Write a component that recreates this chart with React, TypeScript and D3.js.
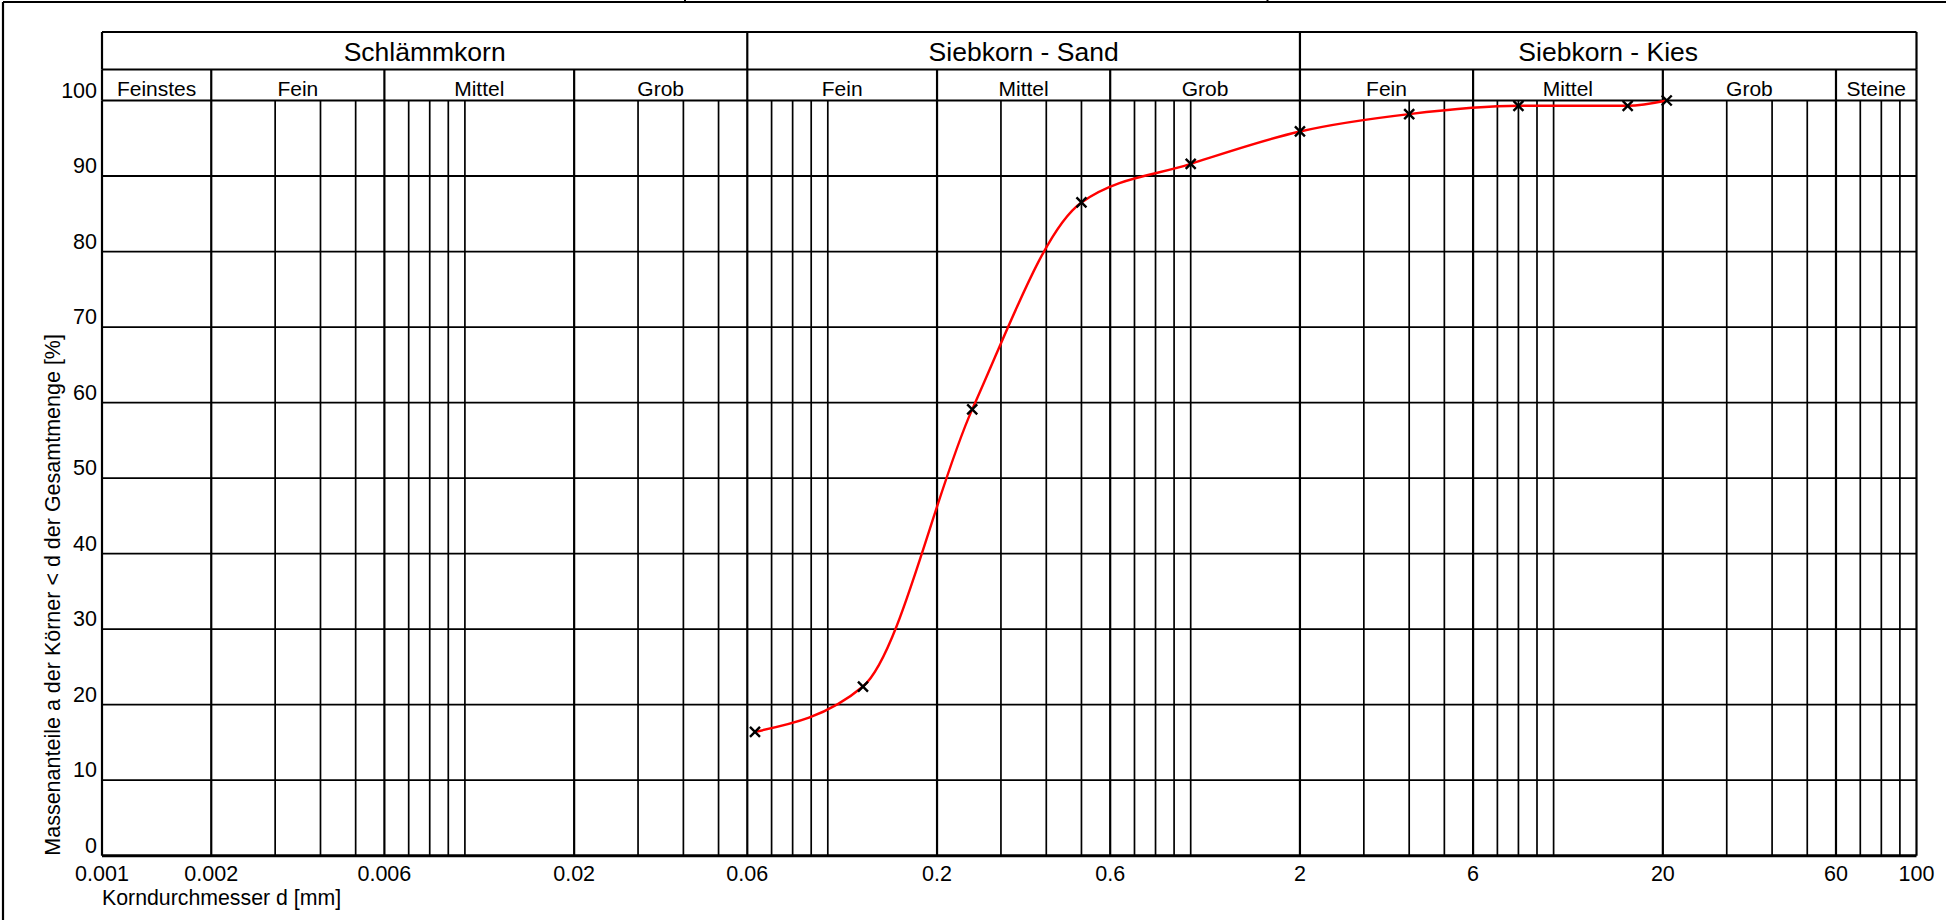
import React from "react";
import * as d3 from "d3";

// ---- data ----
const sieveSizes = [0.063, 0.125, 0.25, 0.5, 1, 2, 4, 8, 16, 20.5];
const passingPercent = [16.4, 22.4, 59.1, 86.5, 91.6, 95.9, 98.2, 99.3, 99.3, 100];

const xTickValues = [0.001, 0.002, 0.006, 0.02, 0.06, 0.2, 0.6, 2, 6, 20, 60, 100];
const xTickLabels = ["0.001", "0.002", "0.006", "0.02", "0.06", "0.2", "0.6", "2", "6", "20", "60", "100"];
const yTickValues = [0, 10, 20, 30, 40, 50, 60, 70, 80, 90, 100];

const mainGroupLabels = ["Schlämmkorn", "Siebkorn - Sand", "Siebkorn - Kies"];
const mainGroupBounds = [0.001, 0.06, 2, 100];
const subGroupLabels = ["Feinstes", "Fein", "Mittel", "Grob", "Fein", "Mittel", "Grob", "Fein", "Mittel", "Grob", "Steine"];
const subGroupBounds = [0.001, 0.002, 0.006, 0.02, 0.06, 0.2, 0.6, 2, 6, 20, 60, 100];

const xTitle = "Korndurchmesser d [mm]";
const yTitle = "Massenanteile a der Körner < d der Gesamtmenge [%]";

// ---- layout ----
const W = 1946;
const H = 920;
const left = 102;
const right = 1916.5;
const top = 100.5;
const bottom = 855.7;
const headTop = 32;
const headMid = 69.5;
const FONT = "'Liberation Sans', Arial, Helvetica, sans-serif";

export default function App() {
  const x = d3.scaleLog().domain([0.001, 100]).range([left, right]);
  const y = d3.scaleLinear().domain([0, 100]).range([bottom, top]);

  const gridX = x.ticks();
  const isBoundary = (v: number) => subGroupBounds.some((b) => Math.abs(Math.log10(b) - Math.log10(v)) < 1e-6);

  const pts = sieveSizes.map((s, i) => [s, passingPercent[i]] as [number, number]);
  const line = d3
    .line<[number, number]>()
    .x((d) => x(d[0]))
    .y((d) => y(d[1]))
    .curve(d3.curveMonotoneX);

  return (
    <svg
      width={W}
      height={H}
      style={{ position: "absolute", left: 0, top: 0, background: "#fff" }}
      fontFamily={FONT}
    >
      <rect x={0} y={0} width={W} height={H} fill="#fff" />
      {/* outer frame */}
      <line x1={3} y1={2} x2={W} y2={2} stroke="#000" strokeWidth={2} />
      <line x1={3} y1={2} x2={3} y2={H} stroke="#000" strokeWidth={2.2} />
      <line x1={685} y1={0} x2={685} y2={2} stroke="#000" strokeWidth={2} />
      <line x1={1267.5} y1={0} x2={1267.5} y2={2} stroke="#000" strokeWidth={2} />

      {/* horizontal grid */}
      {yTickValues.map((v) => (
        <line
          key={"h" + v}
          x1={left}
          x2={right}
          y1={y(v)}
          y2={y(v)}
          stroke="#000"
          strokeWidth={v === 0 ? 3 : 1.8}
        />
      ))}
      {/* vertical grid */}
      {gridX.map((v, i) => (
        <line
          key={"v" + i}
          x1={x(v)}
          x2={x(v)}
          y1={top}
          y2={bottom}
          stroke="#000"
          strokeWidth={isBoundary(v) ? 2.2 : 1.7}
        />
      ))}

      {/* header */}
      <line x1={left} x2={right} y1={headTop} y2={headTop} stroke="#000" strokeWidth={2} />
      <line x1={left} x2={right} y1={headMid} y2={headMid} stroke="#000" strokeWidth={2} />
      {mainGroupBounds.map((b, i) => (
        <line key={"mb" + i} x1={x(b)} x2={x(b)} y1={headTop} y2={headMid} stroke="#000" strokeWidth={2.2} />
      ))}
      {subGroupBounds.map((b, i) => (
        <line key={"sb" + i} x1={x(b)} x2={x(b)} y1={headMid} y2={top} stroke="#000" strokeWidth={2.2} />
      ))}
      {mainGroupLabels.map((t, i) => (
        <text
          key={"mt" + i}
          x={(x(mainGroupBounds[i]) + x(mainGroupBounds[i + 1])) / 2}
          y={60.5}
          textAnchor="middle"
          fontSize={26.5}
          fill="#000"
        >
          {t}
        </text>
      ))}
      {subGroupLabels.map((t, i) => (
        <text
          key={"st" + i}
          x={(x(subGroupBounds[i]) + x(subGroupBounds[i + 1])) / 2}
          y={96}
          textAnchor="middle"
          fontSize={21}
          fill="#000"
        >
          {t}
        </text>
      ))}

      {/* y tick labels */}
      {yTickValues.map((v) => (
        <text key={"yl" + v} x={97} y={y(v) - 3} textAnchor="end" fontSize={21.5} fill="#000">
          {v}
        </text>
      ))}
      {/* x tick labels */}
      {xTickValues.map((v, i) => (
        <text key={"xl" + i} x={x(v)} y={881} textAnchor="middle" fontSize={21.5} fill="#000">
          {xTickLabels[i]}
        </text>
      ))}
      <text x={left} y={905} fontSize={21.3} fill="#000">
        {xTitle}
      </text>
      <text
        transform={`translate(60, ${bottom}) rotate(-90)`}
        x={0}
        y={0}
        fontSize={21.5}
        fill="#000"
      >
        {yTitle}
      </text>

      {/* curve */}
      <path d={line(pts) || ""} fill="none" stroke="#ff0000" strokeWidth={2.4} />
      {pts.map((d, i) => (
        <path
          key={"m" + i}
          transform={`translate(${x(d[0])},${y(d[1])})`}
          d="M-5,-5L5,5M-5,5L5,-5"
          stroke="#000"
          strokeWidth={2.4}
          fill="none"
        />
      ))}
    </svg>
  );
}
